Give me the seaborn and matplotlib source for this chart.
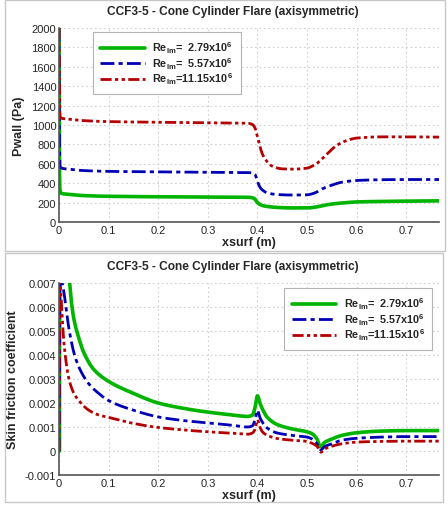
import numpy as np
import pandas as pd
import matplotlib
matplotlib.use("Agg")
import matplotlib.pyplot as plt
from matplotlib.patches import Rectangle
from matplotlib.ticker import AutoMinorLocator, MultipleLocator, FuncFormatter
import seaborn as sns

sns.set_style("white")
plt.rcParams['font.family'] = ['Liberation Sans', 'DejaVu Sans']
plt.rcParams['mathtext.default'] = 'regular'

title = "CCF3-5 - Cone Cylinder Flare (axisymmetric)"
labels = [r"Re$_{lm}$=  2.79x10$^{6}$", r"Re$_{lm}$=  5.57x10$^{6}$", r"Re$_{lm}$=11.15x10$^{6}$"]
colors = ["#00b400", "#0000b4", "#b40000"]

# Pressure data (x in m, Pwall in Pa)
xp_green = [0.0, 0.0008, 0.002, 0.005, 0.02, 0.05, 0.1, 0.2, 0.3, 0.38, 0.39, 0.395, 0.40, 0.41, 0.42, 0.44, 0.47, 0.50, 0.515, 0.53, 0.55, 0.58, 0.6, 0.65, 0.7, 0.766]
p_green  = [2000, 600, 330, 295, 285, 272, 265, 260, 257, 255, 250, 235, 200, 170, 160, 150, 145, 145, 152, 168, 185, 200, 207, 212, 215, 218]
xp_blue  = [0.0, 0.0008, 0.002, 0.005, 0.02, 0.05, 0.1, 0.2, 0.3, 0.38, 0.39, 0.395, 0.40, 0.405, 0.41, 0.42, 0.44, 0.47, 0.50, 0.51, 0.52, 0.53, 0.55, 0.57, 0.6, 0.65, 0.7, 0.766]
p_blue   = [2000, 900, 580, 555, 545, 530, 522, 517, 513, 510, 505, 490, 420, 360, 330, 300, 283, 278, 280, 290, 310, 340, 380, 410, 428, 436, 438, 438]
xp_red   = [0.0, 0.0008, 0.002, 0.005, 0.02, 0.05, 0.1, 0.2, 0.3, 0.38, 0.39, 0.395, 0.40, 0.405, 0.41, 0.42, 0.43, 0.45, 0.47, 0.50, 0.51, 0.52, 0.53, 0.54, 0.56, 0.58, 0.6, 0.65, 0.7, 0.766]
p_red    = [2000, 1500, 1100, 1070, 1060, 1045, 1035, 1028, 1022, 1018, 1005, 970, 880, 780, 700, 620, 575, 548, 545, 555, 575, 605, 650, 700, 790, 840, 865, 878, 878, 875]

# Skin friction data
xc_green = [0.001, 0.0012, 0.02, 0.025, 0.03, 0.04, 0.05, 0.07, 0.1, 0.15, 0.2, 0.25, 0.3, 0.35, 0.38, 0.39, 0.395, 0.40, 0.405, 0.41, 0.42, 0.44, 0.47, 0.50, 0.51, 0.52, 0.527, 0.535, 0.55, 0.57, 0.6, 0.65, 0.7, 0.766]
cf_green = [0.0, 0.0075, 0.0072, 0.0062, 0.0055, 0.0047, 0.0041, 0.0034, 0.0029, 0.0024, 0.0020, 0.00178, 0.00162, 0.0015, 0.00144, 0.0015, 0.0018, 0.0023, 0.0020, 0.00175, 0.0014, 0.0011, 0.00092, 0.0008, 0.00072, 0.0005, 0.00018, 0.00035, 0.0005, 0.00065, 0.00076, 0.00083, 0.00085, 0.00085]
xc_blue  = [0.0, 0.002, 0.005, 0.01, 0.015, 0.02, 0.03, 0.04, 0.06, 0.08, 0.1, 0.15, 0.2, 0.25, 0.3, 0.35, 0.38, 0.39, 0.395, 0.40, 0.405, 0.41, 0.42, 0.44, 0.47, 0.50, 0.51, 0.52, 0.528, 0.535, 0.55, 0.57, 0.6, 0.65, 0.7, 0.766]
cf_blue  = [0.0, 0.0072, 0.0071, 0.0066, 0.0058, 0.0051, 0.0041, 0.0035, 0.0028, 0.0024, 0.0021, 0.0017, 0.00142, 0.00127, 0.00117, 0.00107, 0.001, 0.00105, 0.0013, 0.0017, 0.0014, 0.0012, 0.00095, 0.00075, 0.00065, 0.00058, 0.0005, 0.0003, 0.00005, 0.00018, 0.0003, 0.00045, 0.00053, 0.00058, 0.0006, 0.0006]
xc_red   = [0.0, 0.001, 0.003, 0.006, 0.01, 0.015, 0.02, 0.03, 0.04, 0.06, 0.08, 0.1, 0.15, 0.2, 0.25, 0.3, 0.35, 0.38, 0.39, 0.395, 0.40, 0.405, 0.41, 0.42, 0.44, 0.47, 0.50, 0.51, 0.52, 0.528, 0.535, 0.55, 0.57, 0.6, 0.65, 0.7, 0.766]
cf_red   = [0.0, 0.0072, 0.0068, 0.0057, 0.0045, 0.0036, 0.003, 0.0024, 0.0021, 0.0017, 0.0015, 0.0014, 0.00115, 0.00098, 0.00088, 0.0008, 0.00074, 0.0007, 0.00075, 0.0009, 0.0013, 0.001, 0.0008, 0.00065, 0.00052, 0.00045, 0.0004, 0.00032, 0.0002, -0.00005, 0.00008, 0.0002, 0.0003, 0.00037, 0.0004, 0.00041, 0.00041]

series_p = [(xp_green, p_green), (xp_blue, p_blue), (xp_red, p_red)]
series_cf = [(xc_green, cf_green), (xc_blue, cf_blue), (xc_red, cf_red)]
styles = ["-", (0, (5, 1.5, 1.5, 1.5)), (0, (4, 1.2, 1.2, 1.2, 1.2, 1.2))]
lws = [2.6, 2.0, 2.0]


def pchip(x, y, per_seg=12):
    """Monotone cubic (PCHIP) densification through the read points."""
    x = np.asarray(x, float)
    y = np.asarray(y, float)
    h = np.diff(x)
    d = np.diff(y) / h
    n = len(x)
    m = np.zeros(n)
    for i in range(1, n - 1):
        if d[i - 1] * d[i] > 0:
            w1 = 2 * h[i] + h[i - 1]
            w2 = h[i] + 2 * h[i - 1]
            m[i] = (w1 + w2) / (w1 / d[i - 1] + w2 / d[i])
    m[0] = d[0]
    m[-1] = d[-1]
    xs, ys = [], []
    for i in range(n - 1):
        t = np.linspace(0, 1, per_seg, endpoint=False)
        h00 = 2 * t**3 - 3 * t**2 + 1
        h10 = t**3 - 2 * t**2 + t
        h01 = -2 * t**3 + 3 * t**2
        h11 = t**3 - t**2
        xs.append(x[i] + t * h[i])
        ys.append(h00 * y[i] + h10 * h[i] * m[i] + h01 * y[i + 1] + h11 * h[i] * m[i + 1])
    xs.append([x[-1]])
    ys.append([y[-1]])
    return np.concatenate(xs), np.concatenate(ys)


fig = plt.figure(figsize=(4.48, 5.06), dpi=100)
for rect in [(5 / 448, 1 - 252 / 506, 440 / 448, 251 / 506), (5 / 448, 1 - 503 / 506, 438 / 448, 249 / 506)]:
    fig.patches.append(Rectangle(rect[:2], rect[2], rect[3], transform=fig.transFigure,
                                 fill=False, edgecolor="#c8c8c8", linewidth=1.0))

ax1 = fig.add_axes([59 / 448, 1 - 223 / 506, 380 / 448, 194 / 506])
ax2 = fig.add_axes([59 / 448, 1 - 476 / 506, 380 / 448, 192 / 506])

for ax, series in [(ax1, series_p), (ax2, series_cf)]:
    for (x, y), c, ls, lw, lab in zip(series, colors, styles, lws, labels):
        xs, ys = pchip(x, y)
        df = pd.DataFrame({"x": xs, "y": ys})
        sns.lineplot(data=df, x="x", y="y", ax=ax, color=c, linestyle=ls, linewidth=lw,
                     label=lab, sort=False, estimator=None)

ax1.set_xlim(0, 0.766)
ax1.set_ylim(0, 2000)
ax1.yaxis.set_major_locator(MultipleLocator(200))
ax2.set_xlim(0, 0.766)
ax2.set_ylim(-0.001, 0.007)
ax2.yaxis.set_major_locator(MultipleLocator(0.001))

fmt_x = FuncFormatter(lambda v, p: "0" if abs(v) < 1e-9 else f"{v:.1f}")
for ax in (ax1, ax2):
    ax.xaxis.set_major_locator(MultipleLocator(0.1))
    ax.xaxis.set_minor_locator(AutoMinorLocator(5))
    ax.yaxis.set_minor_locator(AutoMinorLocator(5))
    ax.grid(True, which="major", color="#d0d0d0", linestyle=(0, (1.5, 2.5)), linewidth=0.8)
    for s in ["top", "right"]:
        ax.spines[s].set_visible(False)
    for s in ["left", "bottom"]:
        ax.spines[s].set_color("#555555")
        ax.spines[s].set_linewidth(1.2)
    ax.tick_params(which="major", direction="in", length=5, width=1, color="#555555", labelsize=8, pad=2)
    ax.tick_params(which="minor", direction="in", length=2.5, width=0.8, color="#555555")
    ax.set_xlabel("xsurf (m)", fontsize=9, fontweight="bold", labelpad=1)
    ax.set_title(title, fontsize=8.6, fontweight="bold", pad=10, x=0.457)
    ax.xaxis.set_major_formatter(fmt_x)

ax1.yaxis.set_major_formatter(FuncFormatter(lambda v, p: f"{v:.0f}"))
ax2.yaxis.set_major_formatter(FuncFormatter(lambda v, p: "0" if abs(v) < 1e-9 else f"{v:.3f}"))
ax1.set_ylabel("Pwall (Pa)", fontsize=9, fontweight="bold", labelpad=5)
ax2.set_ylabel("Skin friction coefficient", fontsize=9, fontweight="bold", labelpad=4)

leg_kw = dict(frameon=True, fancybox=False, edgecolor="#b4b4b4", framealpha=1,
              prop={"weight": "bold", "size": 7.8}, handlelength=4.1, handletextpad=0.7,
              labelspacing=0.0, borderpad=0.7, borderaxespad=0)
l1 = ax1.legend(loc="upper left", bbox_to_anchor=(0.089, 0.979), **leg_kw)
l2 = ax2.legend(loc="upper right", bbox_to_anchor=(0.982, 0.974), **leg_kw)
for l in (l1, l2):
    l.get_frame().set_linewidth(0.8)

fig.savefig("out.png", dpi=100)
